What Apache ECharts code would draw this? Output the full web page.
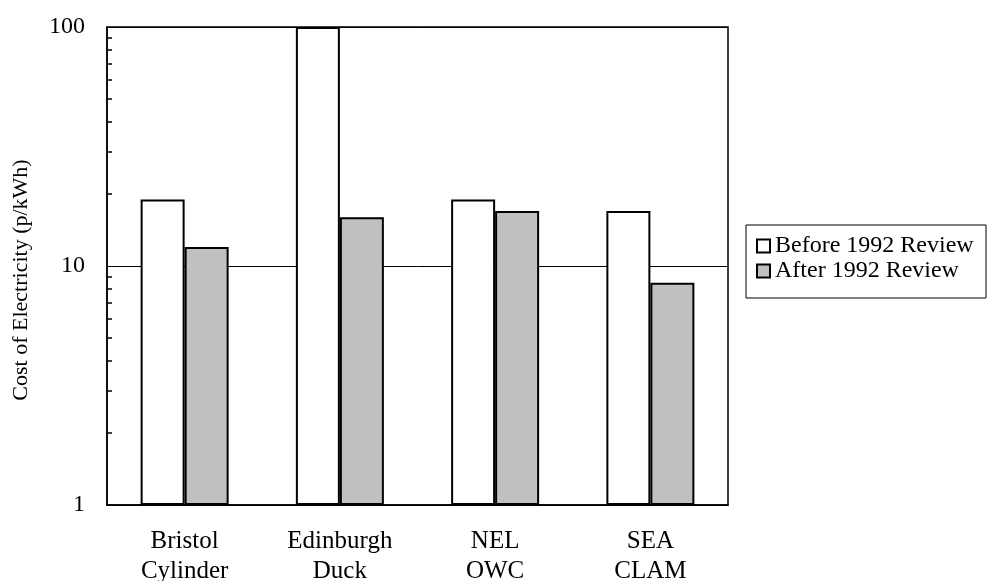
<!DOCTYPE html>
<html>
<head>
<meta charset="utf-8">
<script src="https://cdn.jsdelivr.net/npm/echarts@6/dist/echarts.min.js"></script>
<style>
  html, body { margin: 0; padding: 0; background: #fff; }
  #costChart { width: 989px; height: 581px; }
</style>
</head>
<body>
<div id="costChart"></div>
<script>
// devices on the x axis
const categories = ["Bristol\nCylinder", "Edinburgh\nDuck", "NEL\nOWC", "SEA\nCLAM"];
// cost of electricity, p/kWh
const beforeReview = [19, 100, 19, 17];
const afterReview = [12, 16, 17, 8.5];
// minor tick positions on the log axis
const minorTicks = [2, 3, 4, 5, 6, 7, 8, 9, 20, 30, 40, 50, 60, 70, 80, 90];

const serif = "Liberation Serif";

let chart = echarts.init(document.getElementById("costChart"));

const option = {
  animation: false,
  grid: {
    left: 107,
    right: 261,
    top: 27,
    bottom: 76,
    outerBoundsMode: "none",
    show: true,
    borderColor: "#000",
    borderWidth: 1.5,
  },
  legend: {
    orient: "vertical",
    left: 746,
    top: 225,
    padding: [9, 6, 15, 10],
    itemWidth: 13,
    itemHeight: 13,
    itemGap: 1,
    itemTextGap: 8,
    backgroundColor: "#fff",
    borderColor: "#000",
    borderWidth: 1,
    icon: "rect",
    textStyle: {
      fontFamily: serif,
      fontSize: 24,
      lineHeight: 20,
      color: "#000",
      width: 205,
    },
    data: ["Before 1992 Review", "After 1992 Review"],
  },
  xAxis: {
    type: "category",
    data: categories,
    axisTick: { show: false },
    axisLine: { lineStyle: { color: "#000", width: 1.5 } },
    axisLabel: {
      fontFamily: serif,
      fontSize: 25,
      color: "#000",
      lineHeight: 30,
      margin: 21,
    },
  },
  yAxis: [
    {
      type: "log",
      logBase: 10,
      min: 1,
      max: 100,
      name: "Cost of Electricity (p/kWh)",
      nameLocation: "middle",
      nameGap: 75,
      nameTextStyle: {
        fontFamily: serif,
        fontSize: 22,
        color: "#000",
        padding: [0, 28, 0, 0],
      },
      axisLine: { show: true, lineStyle: { color: "#000", width: 1.5 } },
      axisTick: { show: false },
      axisLabel: {
        fontFamily: serif,
        fontSize: 24,
        color: "#000",
        margin: 22,
      },
      splitLine: { show: true, lineStyle: { color: "#000", width: 1 } },
    },
    {
      // only carries the small inside ticks
      type: "log",
      logBase: 10,
      min: 1,
      max: 100,
      position: "left",
      axisLine: { show: false },
      axisLabel: { show: false },
      splitLine: { show: false },
      axisTick: {
        show: true,
        inside: true,
        length: 5,
        customValues: minorTicks,
        lineStyle: { color: "#000", width: 1.5 },
      },
    },
  ],
  series: [
    {
      name: "Before 1992 Review",
      type: "bar",
      barWidth: 44,
      barGap: "0%",
      data: beforeReview,
      itemStyle: { color: "#fff", borderColor: "#000", borderWidth: 2 },
    },
    {
      name: "After 1992 Review",
      type: "bar",
      barWidth: 44,
      data: afterReview,
      itemStyle: { color: "#c0c0c0", borderColor: "#000", borderWidth: 2 },
    },
  ],
};

chart.setOption(option);
</script>
</body>
</html>
